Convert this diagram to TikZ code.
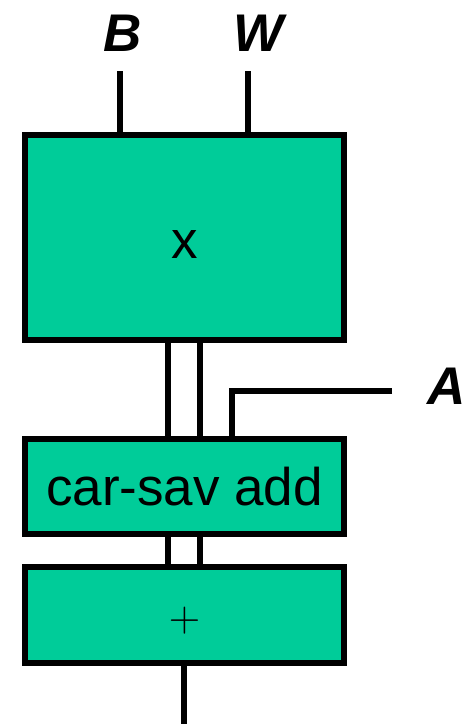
\documentclass[tikz,border=0pt]{standalone}
\usepackage{fontspec}
\setmainfont{Liberation Sans}
\definecolor{boxgreen}{RGB}{0,204,153}
\begin{document}
\begin{tikzpicture}[x=1pt,y=-1pt,
  unit/.style={draw=black,fill=boxgreen,line width=6pt,inner sep=0pt,outer sep=0pt,
    minimum width=319pt,font=\fontsize{53}{60}\selectfont},
  wire/.style={line width=5.5pt,line join=miter},
  sig/.style={font=\fontsize{53}{60}\selectfont\bfseries\itshape,inner sep=0pt}]
\useasboundingbox (0,0) rectangle (475,724);
% blocks (zero-size boxes put the glyphs just below the block centres)
\node[unit,minimum height=205pt] (mul) at (184.5,237.5) {\raisebox{-21.25pt}[0pt][0pt]{x}};
\node[unit,minimum height=95pt] (csa) at (184.5,486.5) {car-sav add};
\node[unit,minimum height=96pt] (sum) at (184.5,615) {\raisebox{-16.9pt}[0pt][0pt]{\scalebox{1.75}{$+$}}};
% input labels
\node[sig] (B) at (123,33) {B};
\node[sig] (W) at (259,33) {W};
\node[sig] (A) at (447,386) {A};
% wire ends
\coordinate (bin) at (120,71);
\coordinate (win) at (248,71);
\coordinate (ain) at (392,391);
\coordinate (out) at (184,724);
% wires
\draw[wire] (bin) -- (bin |- mul.north);
\draw[wire] (win) -- (win |- mul.north);
\draw[wire] (mul.south -| 168,0) -- (csa.north -| 168,0);
\draw[wire] (mul.south -| 200,0) -- (csa.north -| 200,0);
\draw[wire] (ain) -- (232,391) -- (csa.north -| 232,0);
\draw[wire] (csa.south -| 168,0) -- (sum.north -| 168,0);
\draw[wire] (csa.south -| 200,0) -- (sum.north -| 200,0);
\draw[wire] (sum.south -| out) -- (out);
% redraw block outlines over wire ends
\foreach \b in {mul,csa,sum}
  \draw[line width=6pt] (\b.north west) rectangle (\b.south east);
\end{tikzpicture}
\end{document}
